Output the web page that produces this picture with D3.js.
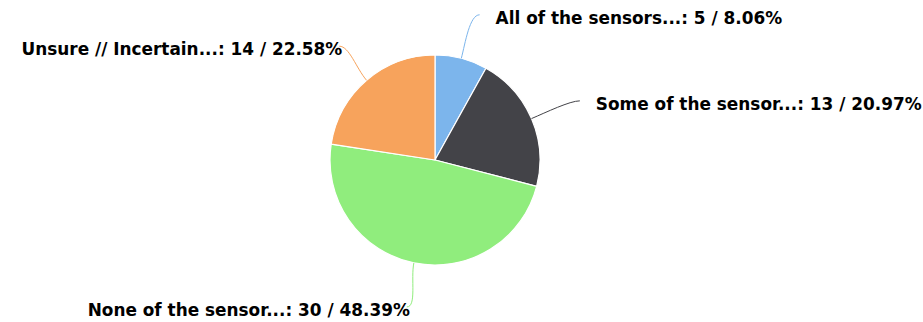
<!DOCTYPE html>
<html><head><meta charset="utf-8">
<script src="https://cdn.jsdelivr.net/npm/d3@7/dist/d3.min.js"></script>
<style>body{margin:0;background:#fff}svg{display:block}</style>
</head><body>
<svg id="c" width="923" height="322"></svg>
<script>
const categories = ["All of the sensors...", "Some of the sensor...", "None of the sensor...", "Unsure // Incertain..."];
const values = [5, 13, 30, 14];
const colors = ["#7cb5ec", "#434348", "#90ed7d", "#f7a35c"];

const W = 923, H = 322, cx = 435, cy = 160, r = 105, Rl = 150;
const svg = d3.select("#c");
const total = d3.sum(values);
const data = categories.map((c, i) => ({name: c, value: values[i], color: colors[i]}));
const pie = d3.pie().value(d => d.value).sort(null);
const arcs = pie(data);
const arc = d3.arc().innerRadius(0).outerRadius(r);
const g = svg.append("g").attr("transform", `translate(${cx},${cy})`);

g.selectAll("path.slice").data(arcs).enter().append("path")
  .attr("class", "slice")
  .attr("d", arc)
  .attr("fill", d => d.data.color)
  .attr("stroke", "#fff").attr("stroke-width", 1.2).attr("stroke-linejoin", "round");

const pt = (a, rad) => [rad * Math.sin(a), -rad * Math.cos(a)];

arcs.forEach(d => {
  const a = (d.startAngle + d.endAngle) / 2;
  const e = pt(a, r);
  const b = pt(a, r + 16);
  const an = pt(a, Rl);
  const right = an[0] >= 0;
  const endX = right ? an[0] + 7 : an[0] + 2;
  const dir = right ? 1 : -1;
  g.append("path")
    .attr("d", `M${e[0]},${e[1]} C${b[0]},${b[1]} ${endX - dir * 10},${an[1]} ${endX},${an[1]}`)
    .attr("fill", "none").attr("stroke", d.data.color).attr("stroke-width", 1);
  const pct = (d.data.value / total * 100).toFixed(2);
  g.append("text")
    .attr("x", right ? an[0] + 23 : an[0] + 5)
    .attr("y", an[1] + 3)
    .attr("dy", "0.36em")
    .attr("text-anchor", right ? "start" : "end")
    .attr("font-family", "DejaVu Sans, Verdana, sans-serif")
    .attr("font-weight", "bold")
    .attr("font-size", 16.9)
    .attr("fill", "#000")
    .text(`${d.data.name}: ${d.data.value} / ${pct}%`);
});
</script>
</body></html>
